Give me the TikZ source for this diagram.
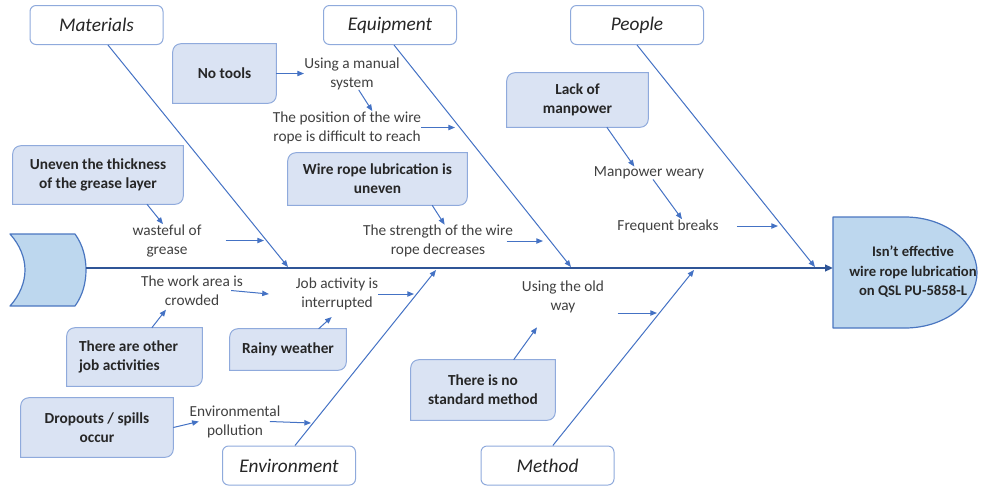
\documentclass[tikz,border=0pt]{standalone}
\usepackage{fontspec}
\setmainfont{Carlito}
\usetikzlibrary{arrows.meta,backgrounds}
\definecolor{spineblue}{HTML}{2F5597}
\definecolor{boneblue}{HTML}{4472C4}
\definecolor{causefill}{HTML}{DAE3F3}
\definecolor{causeline}{HTML}{8FAADC}
\definecolor{headfill}{HTML}{BDD7EE}
\definecolor{headline}{HTML}{4A76C0}
\definecolor{labelgray}{HTML}{404040}
\definecolor{textdark}{HTML}{262626}
\tikzset{
	category/.style={draw=causeline, fill=white, rounded corners=4.5pt, line width=0.75pt,
		minimum width=99.75pt, minimum height=29.25pt, inner sep=0pt,
		font=\fontsize{14.5}{17}\selectfont\itshape, text=textdark},
	cause/.style={inner sep=0pt, align=center, text=textdark,
		font=\fontsize{11.5}{14.25}\selectfont\bfseries},
	causetext/.style={inner sep=0pt, align=center, text=labelgray,
		font=\fontsize{11.5}{14.25}\selectfont},
	bone/.style={draw=boneblue, line width=0.75pt, -{Triangle[length=5pt,width=4pt]}},
	link/.style={draw=boneblue, line width=0.75pt, -{Triangle[length=5pt,width=4pt]}},
	spine/.style={draw=spineblue, line width=2.2pt, -{Triangle[length=6pt,width=5pt]}},
}
% box with round top-left and bottom-right corners
\newcommand\causebox[1]{%
	\draw[draw=causeline, fill=causefill, line width=0.75pt]
	([yshift=-6pt]#1.north west) arc[start angle=180,end angle=90,radius=6pt]
	-- (#1.north east) -- ([yshift=6pt]#1.south east)
	arc[start angle=0,end angle=-90,radius=6pt] -- (#1.south west) -- cycle;}
\begin{document}
\begin{tikzpicture}[x=0.75pt, y=-0.75pt, line join=round]
	\useasboundingbox (0,0) rectangle (981,487);
	\path
	(86,268) coordinate (tailR)
	(833,268) coordinate (headL)
	(288,267) coordinate (matB)
	(571,267) coordinate (eqB)
	(815,267) coordinate (peoB)
	(436,270) coordinate (envB)
	(694,270) coordinate (metB)
	(455,127.5) coordinate (eqa)
	(264,240.5) coordinate (mata)
	(543,241) coordinate (eqb)
	(778,226) coordinate (peoa)
	(414,294) coordinate (enva)
	(311,423) coordinate (envb)
	(657,313) coordinate (meta)
	;
	% tail and head
	\draw[draw=headline, fill=headfill, line width=0.9pt]
	(10,234) -- (75,234) .. controls (83,245) and (86,258) .. (86,270)
	.. controls (86,282) and (83,295) .. (75,306) -- (10,306)
	.. controls (20,295) and (25,282) .. (25,270)
	.. controls (25,258) and (20,245) .. (10,234) -- cycle;
	\draw[draw=headline, fill=headfill, line width=0.9pt]
	(833,217) -- (905,217) .. controls (945,217) and (977,242) .. (977,272.5)
	.. controls (977,303) and (945,328) .. (905,328) -- (833,328) -- cycle;
	\node[cause, font=\fontsize{11}{14.6}\selectfont\bfseries] (effect) at (913,272)
	{Isn’t effective\\wire rope lubrication\\on QSL PU-5858-L};
	\draw[spine] (tailR) -- (headL);
	
	% categories
	\node[category] (mat) at (96.5,25) {Materials};
	\node[category] (eq) at (390,25) {Equipment};
	\node[category] (peo) at (637,25) {People};
	\node[category] (env) at (289,465.5) {Environment};
	\node[category] (met) at (547.5,465.5) {Method};
	
	\draw[bone] ([xshift=8.6pt]mat.south) -- (matB);
	\draw[bone] ([xshift=3pt]eq.south) -- (eqB);
	\draw[bone] (peo.south) -- (peoB);
	\draw[bone] ([xshift=4.5pt]env.north) -- (envB);
	\draw[bone] ([xshift=4pt]met.north) -- (metB);
	
	% boxed causes
	\node[cause, minimum width=77.25pt, minimum height=44.25pt] (notools) at (224.5,73.5) {No tools};
	\node[cause, minimum width=127.5pt, minimum height=43.5pt] (uneven) at (98,175) {Uneven the thickness\\of the grease layer};
	\node[cause, minimum width=134.25pt, minimum height=39pt] (wirelub) at (377.5,179) {Wire rope lubrication is\\uneven};
	\node[cause, minimum width=105.75pt, minimum height=40.5pt] (lack) at (577.5,100) {Lack of\\manpower};
	\node[cause, align=flush left, text width=83.25pt, inner xsep=9pt, minimum height=43.5pt] (otherjob) at (134.5,357) {There are other\\job activities};
	\node[cause, minimum width=87pt, minimum height=30.75pt] (rainy) at (288,349.5) {Rainy weather};
	\node[cause, minimum width=108pt, minimum height=45pt] (nostd) at (483,390) {There is no\\standard method};
	\node[cause, minimum width=114pt, minimum height=44.25pt] (dropouts) at (97,427.5) {Dropouts / spills\\occur};
	\begin{scope}[on background layer]
		\foreach \n in {notools,uneven,wirelub,lack,otherjob,rainy,nostd,dropouts}
		{\causebox{\n}}
	\end{scope}
	
	% effects in plain text
	\node[causetext] (manual) at (352,73.5) {Using a manual\\system};
	\node[causetext] (position) at (347,127.5) {The position of the wire\\rope is difficult to reach};
	\node[causetext] (wasteful) at (167,240.5) {wasteful of\\grease};
	\node[causetext] (strength) at (438,241) {The strength of the wire\\rope decreases};
	\node[causetext] (weary) at (649,173) {Manpower weary};
	\node[causetext] (breaks) at (668,226) {Frequent breaks};
	\node[causetext] (crowded) at (192,290.5) {The work area is\\crowded};
	\node[causetext] (interrupted) at (337,294) {Job activity is\\interrupted};
	\node[causetext] (oldway) at (563,297) {Using the old\\way};
	\node[causetext] (pollution) at (235,421.5) {Environmental\\pollution};
	
	\draw[link] (notools.east) -- (manual.west);
	\draw[link] ([xshift=5pt]manual.south) -- ([xshift=19pt]position.north);
	\draw[link] (position.east) -- (eqa);
	\draw[link] ([xshift=36.75pt]uneven.south) -- ([xshift=-3pt]wasteful.north);
	\draw[link, shorten <=18pt] (wasteful.east) -- (mata);
	\draw[link] ([xshift=41pt]wirelub.south) -- ([xshift=5pt]strength.north);
	\draw[link] ([xshift=-5pt]strength.east) -- (eqb);
	\draw[link] ([xshift=22pt]lack.south) -- ([xshift=-11pt]weary.north);
	\draw[link] ([xshift=3pt]weary.south) -- ([xshift=10.5pt]breaks.north);
	\draw[link, shorten <=13.5pt] (breaks.east) -- (peoa);
	\draw[link] ([xshift=13pt]otherjob.north) -- ([xshift=-19.5pt,yshift=-3pt]crowded.south);
	\draw[link] ([xshift=-9pt]crowded.east) -- ([xshift=-20pt]interrupted.west);
	\draw[link] ([xshift=23pt]rainy.north) -- ([xshift=-4pt,yshift=-5pt]interrupted.south);
	\draw[link] (interrupted.east) -- (enva);
	\draw[link] ([xshift=23pt]nostd.north) -- ([xshift=-19.5pt,yshift=-10.5pt]oldway.south);
	\draw[link] ([xshift=10pt,yshift=-12pt]oldway.east) -- (meta);
	\draw[link] (dropouts.east) -- ([xshift=7pt]pollution.west);
	\draw[link] ([xshift=-8pt]pollution.east) -- (envb);
\end{tikzpicture}
\end{document}
